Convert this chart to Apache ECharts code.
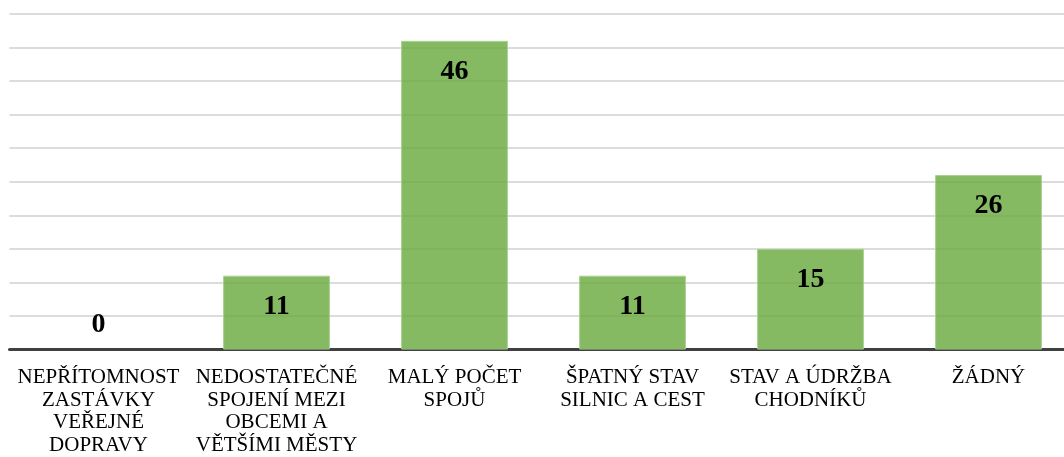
<!DOCTYPE html>
<html>
<head>
<meta charset="utf-8">
<script src="https://cdn.jsdelivr.net/npm/echarts@6/dist/echarts.min.js"></script>
<style>
  html, body { margin: 0; padding: 0; background: #fff; }
  #chart { width: 1064px; height: 457px; }
</style>
</head>
<body>
<div id="chart"></div>
<script>
// kategorie a hodnoty
const categories = [
  'NEPŘÍTOMNOST\nZASTÁVKY\nVEŘEJNÉ\nDOPRAVY',
  'NEDOSTATEČNÉ\nSPOJENÍ MEZI\nOBCEMI A\nVĚTŠÍMI MĚSTY',
  'MALÝ POČET\nSPOJŮ',
  'ŠPATNÝ STAV\nSILNIC A CEST',
  'STAV A ÚDRŽBA\nCHODNÍKŮ',
  'ŽÁDNÝ'
]
const values = [0, 11, 46, 11, 15, 26]

const chart = echarts.init(document.getElementById('chart'))

// nulova hodnota ma popisek nad osou
const seriesData = values.map(v => {
  if (v === 0) {
    return { value: v, itemStyle: { borderWidth: 0 }, label: { position: 'top', distance: 11 } }
  }
  return v
})

chart.setOption({
  animation: false,
  grid: {
    top: 14,
    left: 9.5,
    right: -13.5,
    bottom: 107.5,
    outerBoundsMode: 'none',
    containLabel: false
  },
  xAxis: {
    type: 'category',
    data: categories,
    axisTick: { show: false },
    axisLine: { lineStyle: { color: '#404040', width: 3 } },
    axisLabel: {
      interval: 0,
      margin: 17,
      fontFamily: 'Liberation Serif',
      fontSize: 21,
      lineHeight: 22.5,
      color: '#000'
    }
  },
  yAxis: {
    type: 'value',
    min: 0,
    max: 50,
    interval: 5,
    axisLabel: { show: false },
    axisLine: { show: false },
    axisTick: { show: false },
    splitLine: { lineStyle: { color: '#d0d0d0', width: 1.5 } }
  },
  series: [
    {
      type: 'bar',
      data: seriesData,
      barWidth: '60%',
      itemStyle: { color: 'rgba(112,173,71,0.85)', borderColor: '#a9d18e', borderWidth: 1 },
      label: {
        show: true,
        position: 'insideTop',
        distance: 17,
        fontFamily: 'Liberation Serif',
        fontWeight: 'bold',
        fontSize: 28,
        color: '#000'
      }
    }
  ]
})
</script>
</body>
</html>
